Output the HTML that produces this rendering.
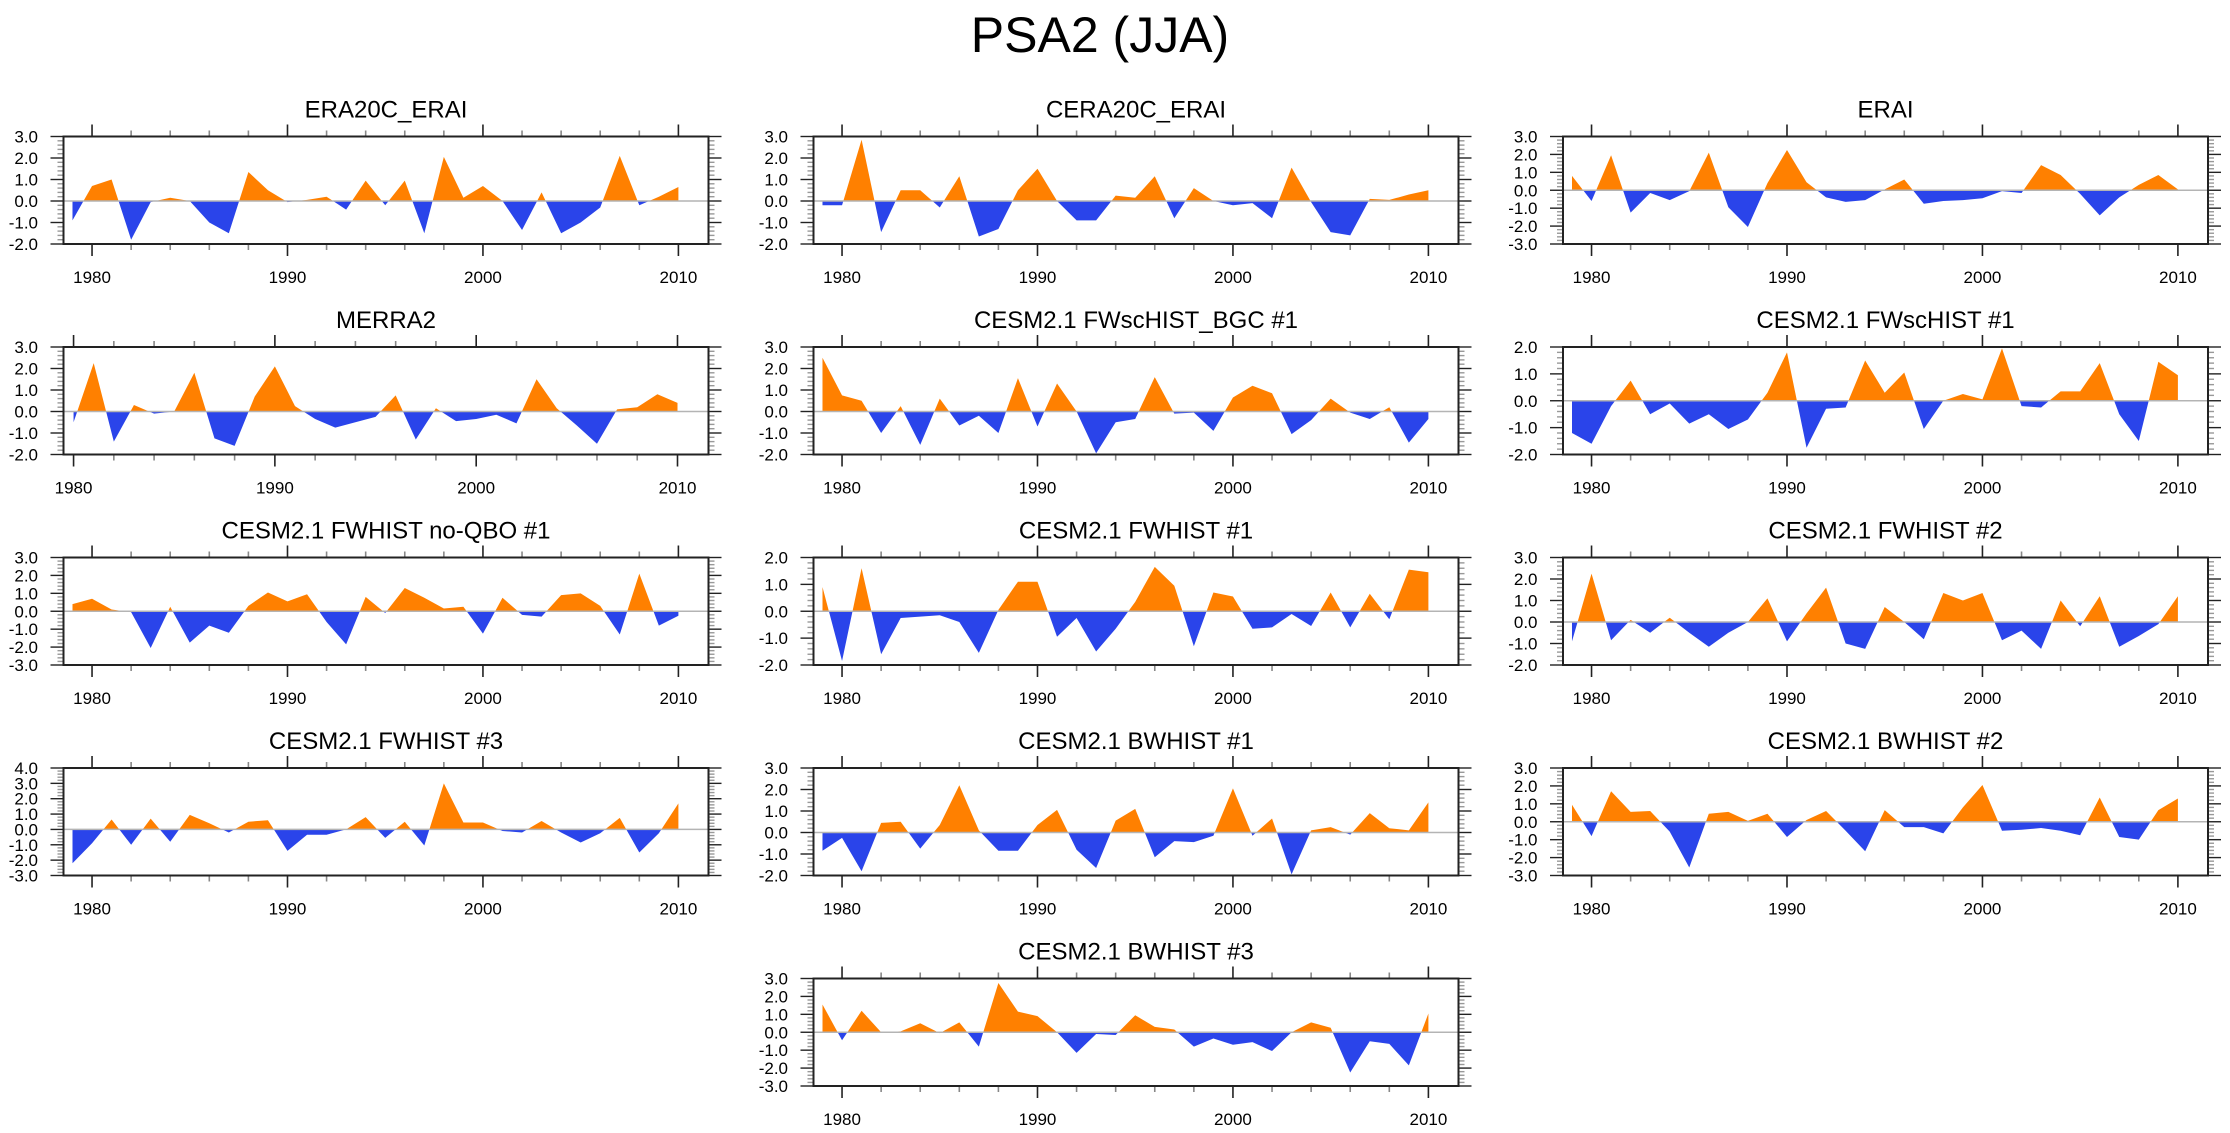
<!DOCTYPE html>
<html><head><meta charset="utf-8">
<style>
html,body{margin:0;padding:0;background:#fff;}
svg{display:block;font-family:"Liberation Sans",Arial,sans-serif;}
</style></head>
<body>
<svg id="fig" width="2230" height="1133" viewBox="0 0 2230 1133" xmlns="http://www.w3.org/2000/svg">
<text x="1100" y="52" font-size="50" text-anchor="middle" fill="#000">PSA2 (JJA)</text>
</svg>
<script>
const years = [1979,1980,1981,1982,1983,1984,1985,1986,1987,1988,1989,1990,1991,1992,1993,1994,1995,1996,1997,1998,1999,2000,2001,2002,2003,2004,2005,2006,2007,2008,2009,2010];
const yearsMerra = [1980,1981,1982,1983,1984,1985,1986,1987,1988,1989,1990,1991,1992,1993,1994,1995,1996,1997,1998,1999,2000,2001,2002,2003,2004,2005,2006,2007,2008,2009,2010];
const xTickLabels = ["1980","1990","2000","2010"];

const era20cErai = [-0.9,0.7,1.0,-1.8,-0.05,0.15,0.0,-1.0,-1.5,1.35,0.5,-0.05,0.05,0.2,-0.4,0.95,-0.2,0.95,-1.5,2.05,0.15,0.7,0.0,-1.35,0.4,-1.5,-1.0,-0.3,2.1,-0.2,0.2,0.65];
const cera20cErai = [-0.2,-0.2,2.85,-1.45,0.5,0.5,-0.3,1.15,-1.65,-1.3,0.5,1.5,0.0,-0.9,-0.9,0.25,0.15,1.15,-0.8,0.6,0.0,-0.2,-0.1,-0.8,1.55,-0.05,-1.45,-1.6,0.1,0.05,0.3,0.5];
const erai = [0.8,-0.6,1.95,-1.25,-0.15,-0.55,-0.05,2.1,-0.95,-2.05,0.4,2.25,0.45,-0.4,-0.65,-0.55,0.05,0.6,-0.75,-0.6,-0.55,-0.45,-0.05,-0.15,1.4,0.85,-0.2,-1.4,-0.4,0.3,0.85,0.05];
const merra2 = [-0.5,2.25,-1.4,0.3,-0.1,0.0,1.8,-1.25,-1.6,0.7,2.1,0.25,-0.35,-0.75,-0.5,-0.25,0.75,-1.3,0.15,-0.45,-0.35,-0.15,-0.55,1.5,0.15,-0.65,-1.5,0.1,0.2,0.8,0.4];
const fwschistBgc1 = [2.5,0.75,0.5,-1.0,0.25,-1.55,0.6,-0.65,-0.2,-1.0,1.55,-0.7,1.3,0.0,-1.95,-0.5,-0.35,1.6,-0.1,-0.05,-0.9,0.65,1.2,0.85,-1.05,-0.4,0.6,-0.05,-0.35,0.2,-1.45,-0.35];
const fwschist1 = [-1.2,-1.6,-0.2,0.75,-0.5,-0.1,-0.85,-0.5,-1.05,-0.7,0.3,1.8,-1.75,-0.3,-0.25,1.5,0.3,1.05,-1.05,0.0,0.25,0.05,1.95,-0.2,-0.25,0.35,0.35,1.4,-0.5,-1.5,1.45,0.95];
const fwhistNoQbo1 = [0.4,0.7,0.1,-0.05,-2.05,0.25,-1.75,-0.8,-1.2,0.3,1.05,0.55,0.95,-0.6,-1.85,0.8,-0.1,1.3,0.75,0.15,0.25,-1.25,0.75,-0.2,-0.3,0.9,1.0,0.3,-1.3,2.1,-0.8,-0.25];
const fwhist1 = [0.9,-1.85,1.6,-1.6,-0.25,-0.2,-0.15,-0.4,-1.55,0.05,1.1,1.1,-0.95,-0.25,-1.5,-0.65,0.35,1.65,0.95,-1.3,0.7,0.55,-0.65,-0.6,-0.1,-0.55,0.7,-0.6,0.65,-0.3,1.55,1.45];
const fwhist2 = [-0.9,2.25,-0.85,0.1,-0.5,0.2,-0.5,-1.15,-0.5,0.0,1.1,-0.9,0.4,1.6,-1.0,-1.25,0.7,0.0,-0.8,1.35,1.0,1.35,-0.85,-0.4,-1.25,1.0,-0.2,1.2,-1.15,-0.65,-0.1,1.2];
const fwhist3 = [-2.2,-0.9,0.65,-1.0,0.7,-0.8,0.95,0.4,-0.2,0.5,0.6,-1.4,-0.35,-0.35,0.0,0.8,-0.55,0.5,-1.05,3.0,0.45,0.45,-0.1,-0.2,0.55,-0.2,-0.85,-0.25,0.75,-1.5,-0.25,1.7];
const bwhist1 = [-0.85,-0.25,-1.8,0.45,0.5,-0.75,0.35,2.2,0.1,-0.85,-0.85,0.35,1.05,-0.8,-1.65,0.55,1.1,-1.15,-0.4,-0.45,-0.15,2.05,-0.15,0.65,-1.95,0.1,0.25,-0.1,0.9,0.2,0.1,1.4];
const bwhist2 = [0.95,-0.8,1.7,0.55,0.6,-0.55,-2.55,0.45,0.55,0.05,0.45,-0.85,0.1,0.6,-0.5,-1.65,0.65,-0.3,-0.3,-0.65,0.8,2.05,-0.5,-0.45,-0.35,-0.5,-0.75,1.35,-0.85,-1.0,0.65,1.3];
const bwhist3 = [1.55,-0.45,1.2,0.0,0.05,0.5,-0.05,0.55,-0.8,2.75,1.15,0.9,0.0,-1.15,-0.1,-0.15,0.95,0.3,0.15,-0.8,-0.35,-0.7,-0.55,-1.05,0.0,0.55,0.25,-2.25,-0.5,-0.65,-1.85,1.05];

const svg = document.getElementById('fig');
const NS = 'http://www.w3.org/2000/svg';
const COLX = [63.5, 813.5, 1563];
const ROWY = [136.5, 347, 557.5, 768, 978.5];
const PW = 645, PH = 107.5;

function mk(tag, attrs, parent) {
  const e = document.createElementNS(NS, tag);
  for (const k in attrs) e.setAttribute(k, attrs[k]);
  (parent || svg).appendChild(e);
  return e;
}

let clipId = 0;
function panel(slug, title, xs, vals, ymin, ymax, xmin, xmax, col, row) {
  const L = COLX[col], T = ROWY[row];
  const g = mk('g', {});
  
  
  const sx = yr => L + (yr - xmin) / (xmax - xmin) * PW;
  const sy = v => T + (ymax - v) / (ymax - ymin) * PH;
  const z = sy(0);
  // title
  const t = mk('text', {x: L + PW / 2, y: T - 19, 'font-size': 24, 'text-anchor': 'middle', fill: '#000'}, g);
  
  
  t.textContent = title;
  // area
  let d = 'M' + sx(xs[0]) + ',' + z;
  for (let i = 0; i < xs.length; i++) d += ' L' + sx(xs[i]).toFixed(2) + ',' + sy(vals[i]).toFixed(2);
  d += ' L' + sx(xs[xs.length - 1]) + ',' + z + ' Z';
  const idA = 'ca' + (clipId++), idB = 'cb' + (clipId++);
  const defs = mk('defs', {}, g);
  const cA = mk('clipPath', {id: idA}, defs);
  mk('rect', {x: L, y: T, width: PW, height: z - T}, cA);
  const cB = mk('clipPath', {id: idB}, defs);
  mk('rect', {x: L, y: z, width: PW, height: T + PH - z}, cB);
  const pos = mk('path', {d: d, fill: '#ff8000', 'clip-path': 'url(#' + idA + ')'}, g);
  
  
  const neg = mk('path', {d: d, fill: '#2a44ea', 'clip-path': 'url(#' + idB + ')'}, g);
  
  
  // zero line
  const zl = mk('line', {x1: L, x2: L + PW, y1: z, y2: z, stroke: '#b4b4b4', 'stroke-width': 1.5}, g);
  
  
  // x ticks
  for (let yr = Math.ceil(xmin); yr <= xmax; yr++) {
    if (yr % 2) continue;
    const major = yr % 10 === 0;
    const len = major ? 12 : 6, col2 = major ? '#222' : '#888';
    const x = sx(yr);
    mk('line', {x1: x, x2: x, y1: T, y2: T - len, stroke: col2, 'stroke-width': 1.6}, g);
    mk('line', {x1: x, x2: x, y1: T + PH, y2: T + PH + len, stroke: col2, 'stroke-width': 1.6}, g);
  }
  xTickLabels.forEach(lbl => {
    const xl = mk('text', {x: sx(+lbl), y: T + PH + 39, 'font-size': 17, 'text-anchor': 'middle', fill: '#000'}, g);
    
    
    xl.textContent = lbl;
  });
  // y ticks
  for (let k = Math.round(ymin * 5); k <= Math.round(ymax * 5); k++) {
    const v = k / 5, y = sy(v);
    const major = k % 5 === 0;
    const len = major ? 13 : 6, c = major ? '#222' : '#999';
    mk('line', {x1: L, x2: L - len, y1: y, y2: y, stroke: c, 'stroke-width': 1.4}, g);
    mk('line', {x1: L + PW, x2: L + PW + len, y1: y, y2: y, stroke: c, 'stroke-width': 1.4}, g);
    if (major) {
      const yl = mk('text', {x: L - 25.5, y: y + 6, 'font-size': 17, 'text-anchor': 'end', fill: '#000'}, g);
      
      
      yl.textContent = v.toFixed(1);
    }
  }
  // frame
  const fr = mk('rect', {x: L, y: T, width: PW, height: PH, fill: 'none', stroke: '#222', 'stroke-width': 2}, g);
  
  
}

panel('era20c-erai', 'ERA20C_ERAI', years, era20cErai, -2, 3, 1978.54, 2011.54, 0, 0);
panel('cera20c-erai', 'CERA20C_ERAI', years, cera20cErai, -2, 3, 1978.54, 2011.54, 1, 0);
panel('erai', 'ERAI', years, erai, -3, 3, 1978.54, 2011.54, 2, 0);
panel('merra2', 'MERRA2', yearsMerra, merra2, -2, 3, 1979.5, 2011.54, 0, 1);
panel('fwschist-bgc-1', 'CESM2.1 FWscHIST_BGC #1', years, fwschistBgc1, -2, 3, 1978.54, 2011.54, 1, 1);
panel('fwschist-1', 'CESM2.1 FWscHIST #1', years, fwschist1, -2, 2, 1978.54, 2011.54, 2, 1);
panel('fwhist-noqbo-1', 'CESM2.1 FWHIST no-QBO #1', years, fwhistNoQbo1, -3, 3, 1978.54, 2011.54, 0, 2);
panel('fwhist-1', 'CESM2.1 FWHIST #1', years, fwhist1, -2, 2, 1978.54, 2011.54, 1, 2);
panel('fwhist-2', 'CESM2.1 FWHIST #2', years, fwhist2, -2, 3, 1978.54, 2011.54, 2, 2);
panel('fwhist-3', 'CESM2.1 FWHIST #3', years, fwhist3, -3, 4, 1978.54, 2011.54, 0, 3);
panel('bwhist-1', 'CESM2.1 BWHIST #1', years, bwhist1, -2, 3, 1978.54, 2011.54, 1, 3);
panel('bwhist-2', 'CESM2.1 BWHIST #2', years, bwhist2, -3, 3, 1978.54, 2011.54, 2, 3);
panel('bwhist-3', 'CESM2.1 BWHIST #3', years, bwhist3, -3, 3, 1978.54, 2011.54, 1, 4);
</script>
</body></html>
